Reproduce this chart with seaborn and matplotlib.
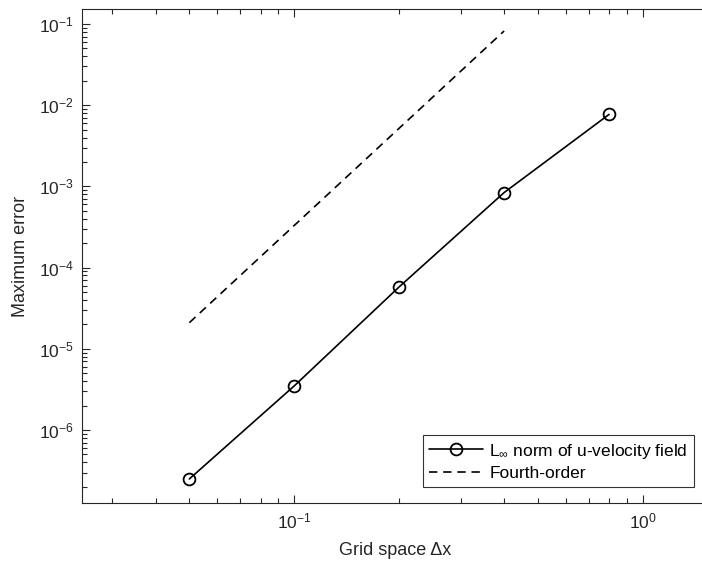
import matplotlib
matplotlib.use("Agg")
import matplotlib.pyplot as plt
import seaborn as sns
import pandas as pd
import numpy as np
from matplotlib.ticker import LogLocator, NullFormatter

# ---- data ----
grid_dx = [0.05, 0.1, 0.2, 0.4, 0.8]
max_error = [2.5e-7, 3.5e-6, 5.8e-5, 8.4e-4, 7.7e-3]
ref_dx = [0.05, 0.4]
ref_err = [2.1e-5, 0.082]
label_main = r"L$_{\infty}$ norm of u-velocity field"
label_ref = "Fourth-order"
xlabel = "Grid space \u0394x"
ylabel = "Maximum error"

sns.set_style("ticks")
plt.rcParams["font.family"] = ["Liberation Sans", "DejaVu Sans"]
plt.rcParams["mathtext.default"] = "regular"
plt.rcParams["axes.unicode_minus"] = False

fig = plt.figure(figsize=(7.02, 5.71), dpi=100)
ax = fig.add_axes([82 / 702, 1 - 503 / 571, 626 / 702, 494 / 571])

df_main = pd.DataFrame({"dx": grid_dx, "err": max_error})
df_ref = pd.DataFrame({"dx": ref_dx, "err": ref_err})

sns.lineplot(data=df_main, x="dx", y="err", ax=ax, color="black", lw=1.2,
             marker="o", markersize=8.5, markerfacecolor="none",
             markeredgecolor="black", markeredgewidth=1.3, label=label_main,
             estimator=None, sort=False)
sns.lineplot(data=df_ref, x="dx", y="err", ax=ax, color="black", lw=1.2,
             linestyle=(0, (5, 3.5)), label=label_ref, estimator=None, sort=False)

ax.set_xscale("log")
ax.set_yscale("log")
ax.set_xlim(0.0246, 1.538)
ax.set_ylim(1.264e-7, 0.1529)

ax.xaxis.set_major_locator(LogLocator(base=10, numticks=20))
ax.yaxis.set_major_locator(LogLocator(base=10, numticks=20))
ax.xaxis.set_minor_locator(LogLocator(base=10, subs=np.arange(2, 10), numticks=20))
ax.yaxis.set_minor_locator(LogLocator(base=10, subs=np.arange(2, 10), numticks=20))
ax.xaxis.set_minor_formatter(NullFormatter())
ax.yaxis.set_minor_formatter(NullFormatter())

axcol = (0.15, 0.15, 0.15)
for s in ax.spines.values():
    s.set_color(axcol)
    s.set_linewidth(0.8)
    s.set_visible(True)
ax.tick_params(which="both", direction="in", top=True, right=False, colors=axcol,
               width=0.8, labelcolor=axcol)
ax.tick_params(which="major", length=6, labelsize=12.5, pad=6)
ax.tick_params(which="minor", length=3.5)

ax.set_xlabel(xlabel, fontsize=13, color=axcol, labelpad=8)
ax.set_ylabel(ylabel, fontsize=13, color=axcol, labelpad=7)

leg = ax.legend(loc="lower right", bbox_to_anchor=(612 / 626, 0.0324), borderaxespad=0,
                fontsize=12.5, frameon=True, fancybox=False, edgecolor="black",
                handlelength=3.1, handletextpad=0.4, borderpad=0.35, labelspacing=0.3)
leg.get_frame().set_linewidth(0.8)
for t in leg.get_texts():
    t.set_color("black")

fig.savefig("out.png", dpi=100)
